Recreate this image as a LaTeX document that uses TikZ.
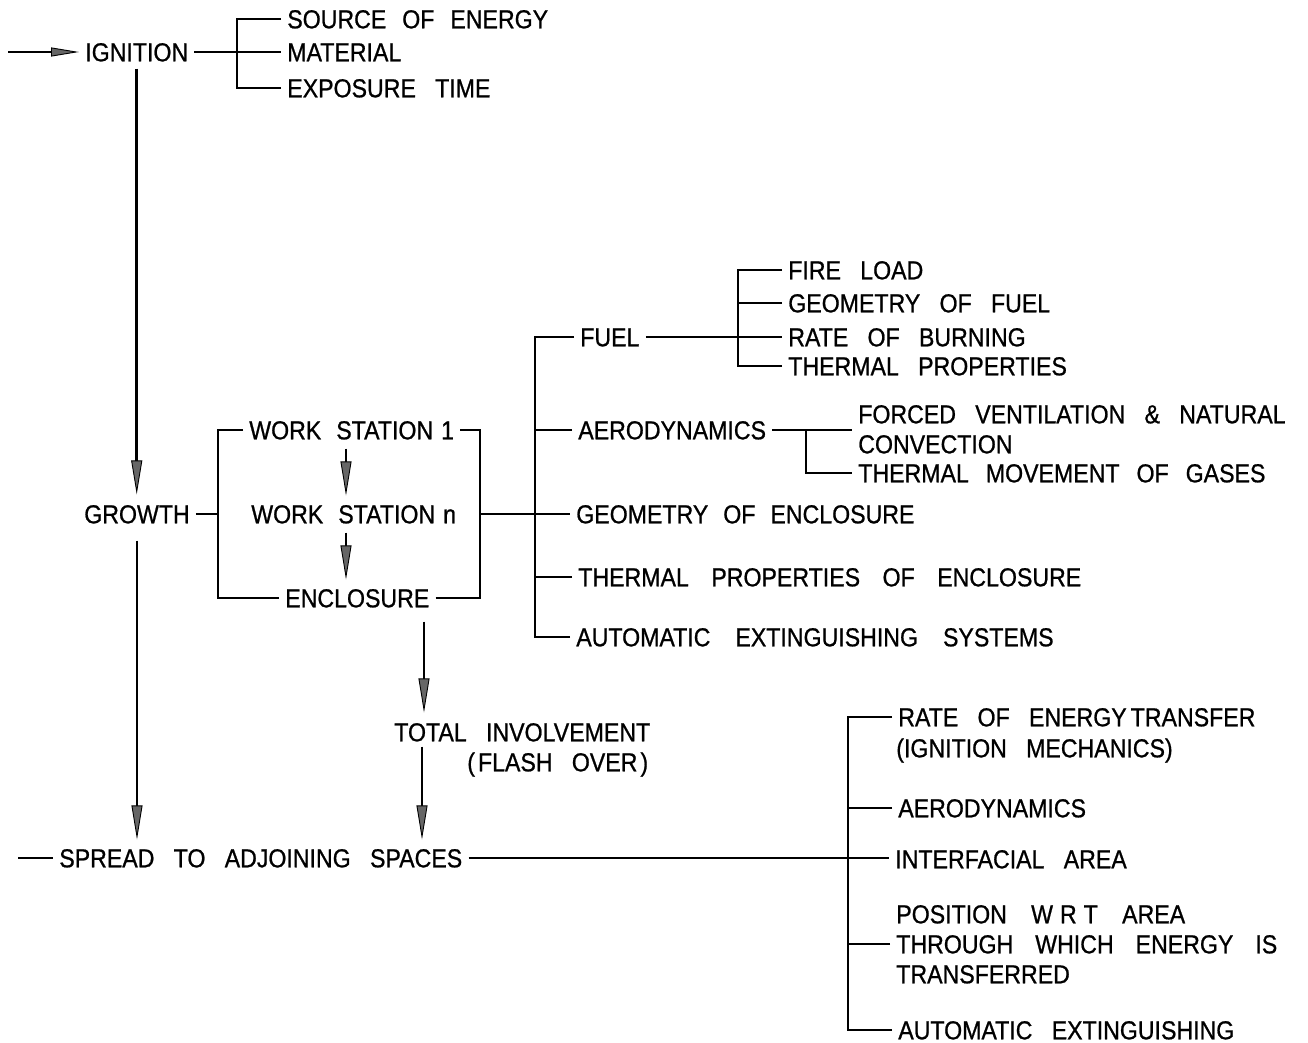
\documentclass[tikz,border=0pt]{standalone}
\usepackage{fontspec}
\setmainfont{Liberation Sans}[FakeStretch=0.89,WordSpace=3,FakeBold=0.8]
\usetikzlibrary{arrows.meta,calc}
\tikzset{
  lbl/.style={anchor=west,inner xsep=5pt,inner ysep=0pt,xshift=-5pt,text height=18.6pt,text depth=0pt,font=\fontsize{26}{30}\selectfont},
  ws/.style={execute at begin node={\spaceskip=#1pt\relax}},
  arr/.style={-{Triangle[length=34pt,width=11pt,fill=black!60,line width=0.9pt]}},
  arrh/.style={-{Triangle[length=28pt,width=9pt,fill=black!60,line width=0.9pt]}}
}
\begin{document}
\begin{tikzpicture}[x=1pt,y=-1pt,line width=2.6pt]
\fill[white] (0,0) rectangle (1308,1043);
% ignition
\node[lbl] (ign) at (84,52) {IGNITION};
\node[lbl,ws=16] (src) at (286,19) {SOURCE OF ENERGY};
\node[lbl] (mat) at (286,52) {MATERIAL};
\node[lbl] (exp) at (286,88) {EXPOSURE TIME};
% growth
\node[lbl] (gro) at (83,514) {GROWTH};
\node[lbl,ws=15] (ws1) at (248,430) {WORK STATION\kern8pt 1};
\node[lbl,ws=15] (wsn) at (250,514) {WORK STATION\kern8pt n};
\node[lbl] (enc) at (284,598) {ENCLOSURE};
\node[lbl] (fuel) at (579,337) {FUEL};
\node[lbl] (aero) at (577,430) {AERODYNAMICS};
\node[lbl,ws=15] (geo) at (575,514) {GEOMETRY OF ENCLOSURE};
\node[lbl,ws=22.5] (thp) at (577,577) {THERMAL PROPERTIES OF ENCLOSURE};
\node[lbl,ws=25] (aes) at (575,637) {AUTOMATIC EXTINGUISHING SYSTEMS};
\node[lbl] (fl) at (787,270) {FIRE LOAD};
\node[lbl] (gf) at (787,303) {GEOMETRY OF FUEL};
\node[lbl] (rb) at (787,337) {RATE OF BURNING};
\node[lbl] (tp) at (787,366) {THERMAL PROPERTIES};
\node[lbl] (fv) at (857,414) {FORCED VENTILATION \& NATURAL};
\node[lbl] (conv) at (857,444) {CONVECTION};
\node[lbl,ws=17] (tm) at (857,473) {THERMAL MOVEMENT OF GASES};
% total involvement, spread
\node[lbl] (ti) at (393,732) {TOTAL INVOLVEMENT};
\node[lbl] (fo) at (466,762) {(\kern3pt FLASH OVER\kern3pt)};
\node[lbl] (spr) at (58,858) {SPREAD TO ADJOINING SPACES};
\node[lbl] (re) at (897,717) {RATE OF ENERGY\kern4pt TRANSFER};
\node[lbl] (im) at (895,748) {(IGNITION MECHANICS)};
\node[lbl] (ae2) at (897,808) {AERODYNAMICS};
\node[lbl] (ia) at (894,859) {INTERFACIAL AREA};
\node[lbl] (pos) at (895,914) {POSITION\hspace{5pt} W\kern7pt R\kern7pt T\hspace{5pt} AREA};
\node[lbl,ws=22] (thr) at (895,944) {THROUGH WHICH ENERGY IS};
\node[lbl] (trf) at (895,974) {TRANSFERRED};
\node[lbl] (ae3) at (897,1030) {AUTOMATIC EXTINGUISHING};
% coordinates
\coordinate (in) at (8,52);
\coordinate (b1) at (237,52);
\coordinate (b2) at (218,514);
\coordinate (b3) at (480,514);
\coordinate (b4) at (535,514);
\coordinate (b5) at (738,337);
\coordinate (b6) at (806,430);
\coordinate (sl) at (18,858);
\coordinate (b7) at (848,858);
% ignition connectors
\draw[arrh] (in) -- (ign.west);
\draw (ign.east) -- (mat.west);
\draw (src.west) -| (b1);
\draw (exp.west) -| (b1);
\draw[arr,shorten <=6pt,shorten >=9pt] (ign.south) -- (ign.south |- gro.north);
% growth connectors
\draw (gro.east) -- (b2);
\draw (ws1.west) -| (b2);
\draw (enc.west) -| (b2);
\draw (ws1.east) -| (b3);
\draw (enc.east) -| (b3);
\draw (b3) -- (geo.west);
\draw[arr,shorten <=8pt,shorten >=8pt] (ws1.south -| 346,0) -- (wsn.north -| 346,0);
\draw[arr,shorten <=8pt,shorten >=8pt] (wsn.south -| 346,0) -- (enc.north -| 346,0);
\draw (fuel.west) -| (b4);
\draw (aes.west) -| (b4);
\draw (aero.west) -- (aero.west -| b4);
\draw (thp.west) -- (thp.west -| b4);
\draw (fuel.east) -- (rb.west);
\draw (fl.west) -| (b5);
\draw (tp.west) -| (b5);
\draw (gf.west) -- (gf.west -| b5);
\draw (aero.east) -- (aero.east -| fv.west);
\draw (b6) |- (tm.west);
\draw[arr,shorten <=16pt,shorten >=8pt] (gro.south) -- (gro.south |- spr.north);
% total involvement
\coordinate (ea1) at ($(ti.west |- enc.south)+(36,13)$);
\draw[arr,shorten >=9pt] (ea1) -- (ea1 |- ti.north);
\coordinate (ea2) at ($(ti.south west)+(34,4)$);
\draw[arr,shorten >=8pt] (ea2) -- (ea2 |- spr.north);
% spread
\draw (sl) -- (spr.west);
\draw (spr.east) -- (spr.east -| ia.west);
\draw (re.west) -| (b7);
\draw (ae3.west) -| (b7);
\draw (ae2.west) -- (ae2.west -| b7);
\draw (thr.west) -- (thr.west -| b7);
\end{tikzpicture}
\end{document}
